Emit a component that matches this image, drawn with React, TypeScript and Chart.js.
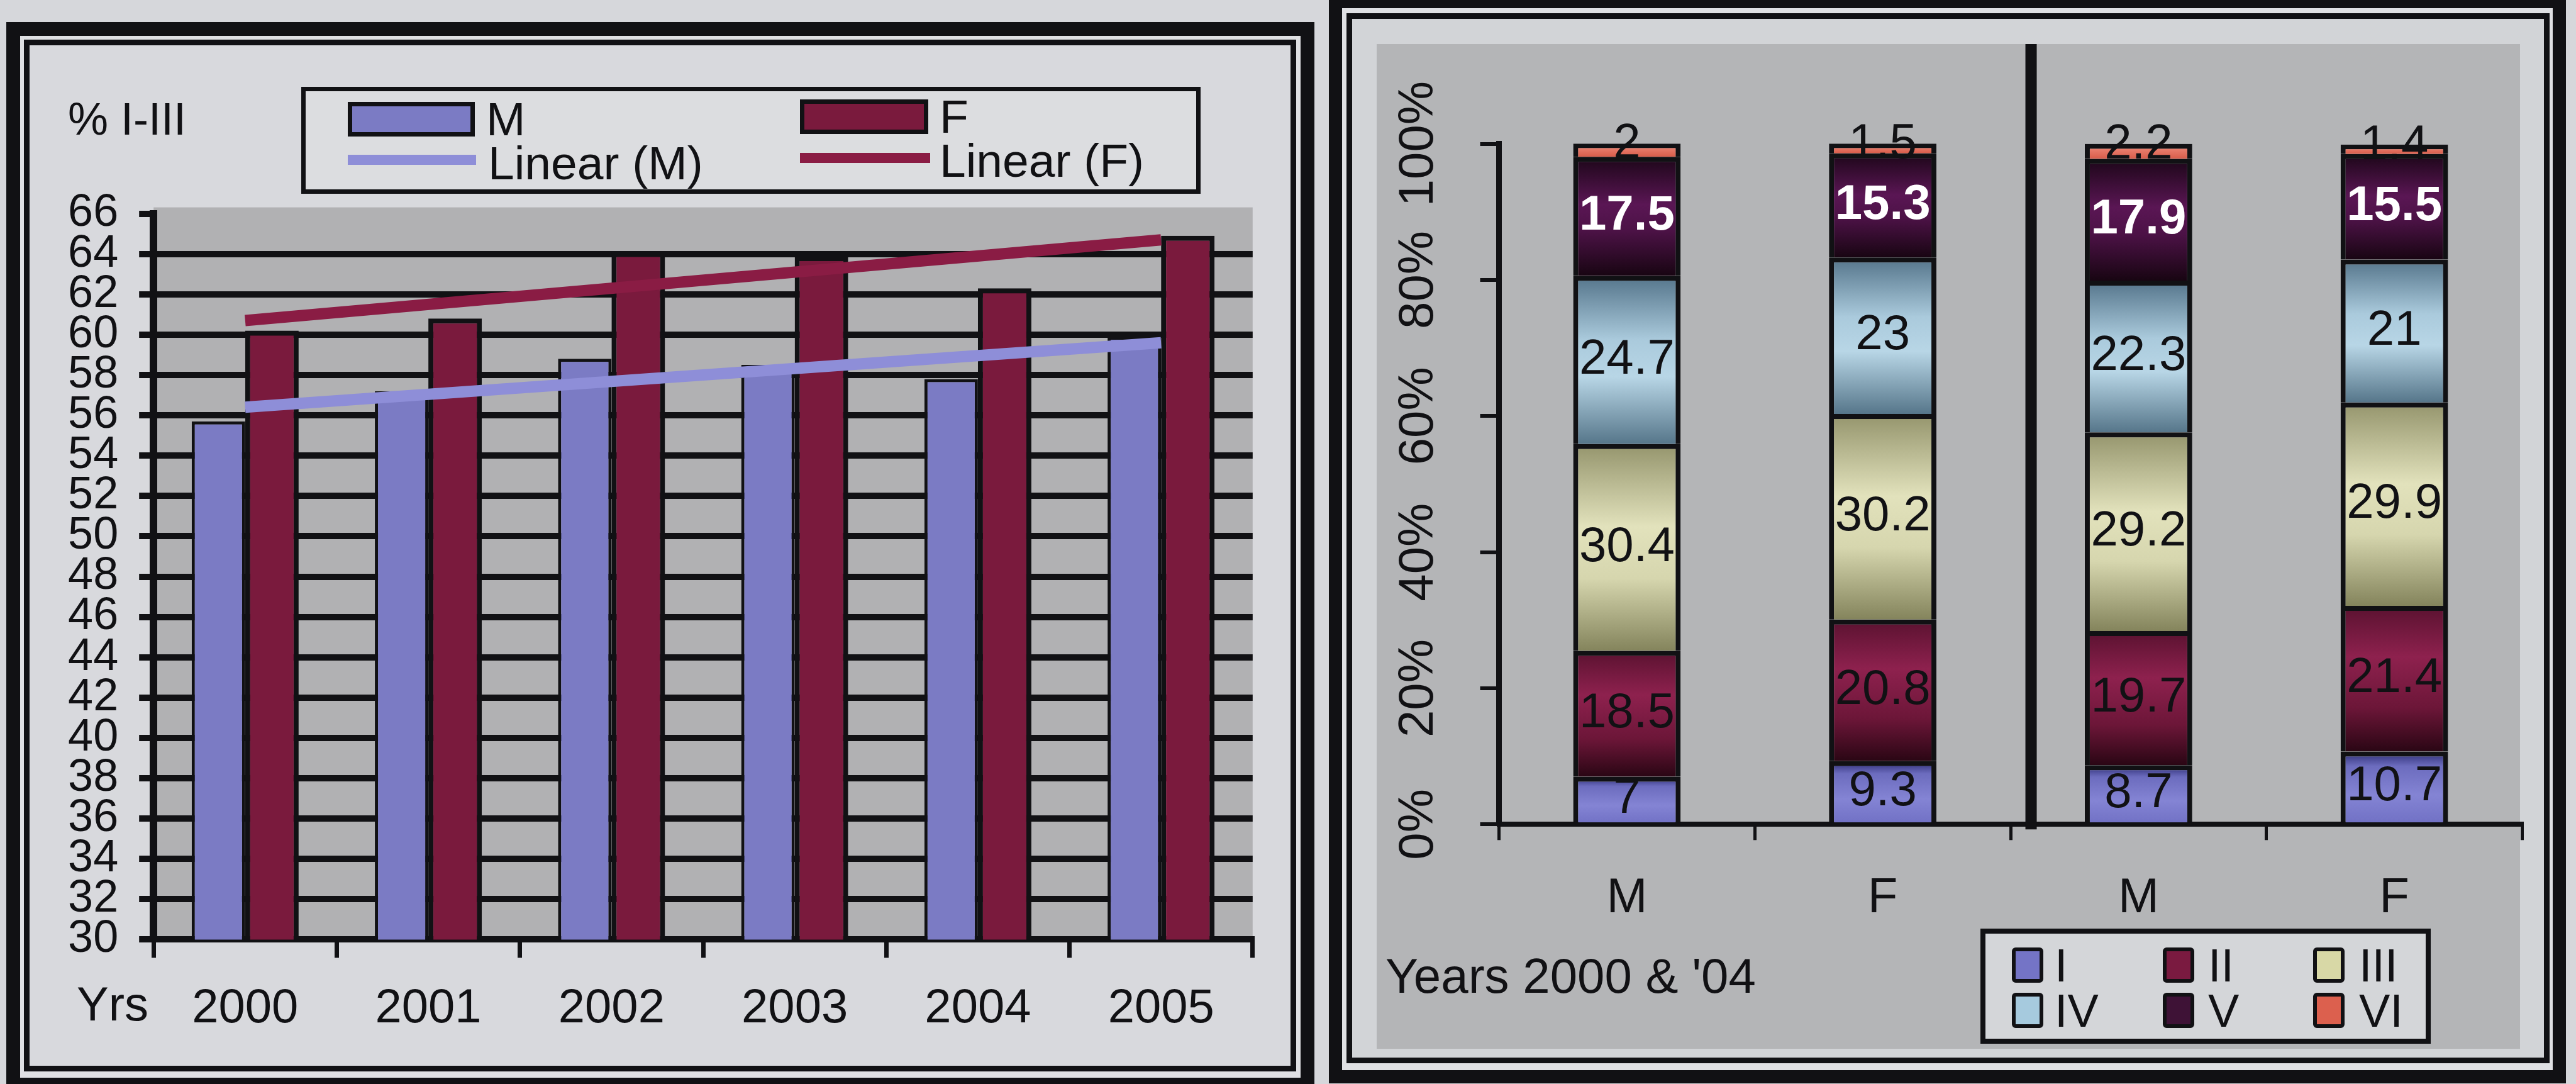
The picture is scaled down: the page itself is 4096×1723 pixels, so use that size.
import { useEffect, useRef } from 'react';
import { Chart, registerables } from 'chart.js';

Chart.register(...registerables);

const FONT = '"Liberation Sans", Arial, Helvetica, sans-serif';
const INK = '#111114';

// ---- Left chart: share of classes I–III (%) by year ----
const years = ['2000', '2001', '2002', '2003', '2004', '2005'];
const shareM = [55.7, 57.2, 58.8, 58.5, 57.8, 59.9];
const shareF = [60.2, 60.8, 64.1, 63.9, 62.3, 64.9];
const trendYears = ['2000', '2005'];
const trendM = [56.4, 59.6];
const trendF = [60.7, 64.7];
const leftMin = 30;
const leftMax = 66;
const leftStep = 2;

// ---- Right chart: distribution over classes I–VI, 2000 and 2004 ----
const groups = ['M', 'F', 'M', 'F'];
const classNames = ['I', 'II', 'III', 'IV', 'V', 'VI'];
const classI = [7, 9.3, 8.7, 10.7];
const classII = [18.5, 20.8, 19.7, 21.4];
const classIII = [30.4, 30.2, 29.2, 29.9];
const classIV = [24.7, 23, 22.3, 21];
const classV = [17.5, 15.3, 17.9, 15.5];
const classVI = [2, 1.5, 2.2, 1.4];
const classData = [classI, classII, classIII, classIV, classV, classVI];

const colM = '#7b7bc4';
const colF = '#7a1a3d';
const colTrendM = '#8e8ed8';
const colTrendF = '#8a1c44';

type Stop = [number, string];
const classStyle: { swatch: string; stops: Stop[]; label: string; bold: boolean }[] = [
  { swatch: '#7474c6', stops: [[0, '#2a2a72'], [0.2, '#6c6cbe'], [0.6, '#8484d4'], [1, '#7070c4']], label: INK, bold: false },
  { swatch: '#7a1a40', stops: [[0, '#5a1230'], [0.35, '#8e214e'], [0.7, '#6c1638'], [1, '#2a0614']], label: INK, bold: false },
  { swatch: '#d8d8a6', stops: [[0, '#94946c'], [0.4, '#e2e2bc'], [0.65, '#d6d6ae'], [1, '#84845c']], label: INK, bold: false },
  { swatch: '#a6cade', stops: [[0, '#54748a'], [0.38, '#aacadc'], [0.6, '#b8d6e6'], [1, '#56768a']], label: INK, bold: false },
  { swatch: '#3e1236', stops: [[0, '#1c0618'], [0.4, '#5a1654'], [0.62, '#4c1246'], [1, '#180512']], label: '#ffffff', bold: true },
  { swatch: '#dc604e', stops: [[0, '#f29080'], [1, '#d85c4a']], label: INK, bold: false },
];

const plotBackground = {
  id: 'plotBackground',
  beforeDraw(chart: any) {
    const { ctx, chartArea: a } = chart;
    ctx.save();
    ctx.fillStyle = '#b1b1b3';
    ctx.fillRect(a.left, a.top - 10, a.right - a.left, a.bottom - a.top + 10);
    ctx.restore();
  },
};

const segmentLabels = {
  id: 'segmentLabels',
  afterDatasetsDraw(chart: any) {
    const ctx = chart.ctx;
    ctx.save();
    ctx.textAlign = 'center';
    ctx.textBaseline = 'middle';
    chart.data.datasets.forEach((ds: any, k: number) => {
      const meta = chart.getDatasetMeta(k);
      const st = classStyle[k];
      ctx.font = `${st.bold ? 'bold ' : ''}78px ${FONT}`;
      ctx.fillStyle = st.label;
      meta.data.forEach((el: any, i: number) => {
        const { x, y, base } = el.getProps(['x', 'y', 'base'], true);
        const cy = k === classData.length - 1 ? y + 2 : (y + base) / 2;
        ctx.fillText(String(ds.data[i]), x, cy);
      });
    });
    ctx.restore();
  },
};

// vertical rule separating the 2000 pair from the 2004 pair
const yearDivider = {
  id: 'yearDivider',
  afterDatasetsDraw(chart: any) {
    const { ctx, chartArea: a } = chart;
    const x = chart.scales.x.getPixelForValue(1.58);
    ctx.save();
    ctx.fillStyle = INK;
    ctx.fillRect(x - 9, 0, 18, a.bottom + 8);
    ctx.restore();
  },
};

function segmentFill(k: number) {
  return (c: any) => {
    const st = classStyle[k];
    const chart = c.chart;
    if (c.type !== 'data' || !chart.chartArea) return st.swatch;
    const y = chart.scales.y;
    let lo = 0;
    for (let j = 0; j < k; j++) lo += classData[j][c.dataIndex];
    const hi = lo + classData[k][c.dataIndex];
    const top = y.getPixelForValue(hi);
    const bot = y.getPixelForValue(lo);
    if (!isFinite(top) || !isFinite(bot) || bot - top < 1) return st.swatch;
    const g = chart.ctx.createLinearGradient(0, top, 0, bot);
    st.stops.forEach(([o, col]) => g.addColorStop(o, col));
    return g;
  };
}

const LW = 2000, LH = 1640; // left canvas
const RW = 1850, RH = 1597; // right canvas

function Frame({ l, t, r, b, w, bg }: { l: number; t: number; r: number; b: number; w: number; bg?: string }) {
  return (
    <div
      style={{
        position: 'absolute', left: l, top: t, width: r - l, height: b - t,
        border: `${w}px solid ${INK}`, boxSizing: 'border-box', background: bg || 'transparent',
      }}
    />
  );
}

function Txt({ x, cy, size, children, bold }: { x: number; cy: number; size: number; children: any; bold?: boolean }) {
  return (
    <div
      style={{
        position: 'absolute', left: x, top: cy - 0.4885 * size, fontSize: size, lineHeight: `${size}px`,
        fontFamily: FONT, color: INK, whiteSpace: 'nowrap', fontWeight: bold ? 700 : 400,
      }}
    >
      {children}
    </div>
  );
}

export default function App() {
  const leftRef = useRef<HTMLCanvasElement>(null);
  const rightRef = useRef<HTMLCanvasElement>(null);

  useEffect(() => {
    Chart.defaults.font.family = FONT;
    const left = new Chart(leftRef.current as HTMLCanvasElement, {
      type: 'bar',
      data: {
        labels: years,
        datasets: [
          { type: 'line', label: 'Linear (M)', data: trendYears.map((x, i) => ({ x, y: trendM[i] })) as any, borderColor: colTrendM, borderWidth: 18, pointRadius: 0, order: 0, borderCapStyle: 'butt' },
          { type: 'line', label: 'Linear (F)', data: trendYears.map((x, i) => ({ x, y: trendF[i] })) as any, borderColor: colTrendF, borderWidth: 18, pointRadius: 0, order: 0, borderCapStyle: 'butt' },
          { type: 'bar', label: 'M', data: shareM, backgroundColor: colM, borderColor: INK, borderWidth: 5, order: 1, categoryPercentage: 0.584, barPercentage: 1 },
          { type: 'bar', label: 'F', data: shareF, backgroundColor: colF, borderColor: INK, borderWidth: 8, order: 1, categoryPercentage: 0.584, barPercentage: 1 },
        ] as any,
      },
      options: {
        responsive: false,
        devicePixelRatio: 1,
        animation: false,
        events: [],
        layout: { padding: { top: 279.6, right: LW - 1941.8, bottom: 0, left: 0 } },
        plugins: { legend: { display: false }, tooltip: { enabled: false } },
        scales: {
          x: {
            type: 'category',
            offset: true,
            grid: { offset: true, drawOnChartArea: false, drawTicks: true, tickLength: 29, color: INK, lineWidth: 7 },
            border: { display: true, color: INK, width: 10 },
            ticks: { color: INK, font: { size: 76, family: FONT }, padding: 36, autoSkip: false, maxRotation: 0 },
            afterFit: (s: any) => { s.height = LH - 1433.4; },
          },
          y: {
            min: leftMin,
            max: leftMax,
            ticks: { stepSize: leftStep, autoSkip: false, color: INK, font: { size: 72, family: FONT }, padding: 33 },
            grid: {
              color: (c: any) => (c.tick && c.tick.value === leftMax ? 'rgba(0,0,0,0)' : INK),
              tickColor: INK, lineWidth: 10, tickLength: 23, tickWidth: 10,
            },
            border: { display: true, color: INK, width: 12 },
            afterFit: (s: any) => { s.width = 194.2; },
          },
        },
      } as any,
      plugins: [plotBackground],
    });

    const right = new Chart(rightRef.current as HTMLCanvasElement, {
      type: 'bar',
      data: {
        labels: groups,
        datasets: classData.map((d, k) => ({
          label: classNames[k],
          data: d,
          backgroundColor: segmentFill(k),
          borderColor: INK,
          borderWidth: 8,
          barPercentage: 0.42,
          categoryPercentage: 1,
        })) as any,
      },
      options: {
        responsive: false,
        devicePixelRatio: 1,
        animation: false,
        events: [],
        layout: { padding: { top: 158.6, right: RW - 1821.5, bottom: 0, left: 0 } },
        plugins: { legend: { display: false }, tooltip: { enabled: false } },
        scales: {
          x: {
            stacked: true,
            offset: true,
            grid: { offset: true, drawOnChartArea: false, drawTicks: true, tickLength: 25, color: INK, lineWidth: 5 },
            border: { display: true, color: INK, width: 8 },
            ticks: { color: INK, font: { size: 78, family: FONT }, padding: 46, autoSkip: false, maxRotation: 0 },
            afterFit: (s: any) => { s.height = RH - 1240.3; },
          },
          y: {
            stacked: true,
            min: 0,
            max: 100,
            ticks: {
              stepSize: 20, autoSkip: false, color: INK, font: { size: 78, family: FONT },
              callback: (v: any) => `${v}%`, minRotation: 90, maxRotation: 90, crossAlign: 'center', padding: -3,
            },
            grid: { drawOnChartArea: false, drawTicks: true, tickLength: 30, color: INK, lineWidth: 6 },
            border: { display: true, color: INK, width: 9 },
            afterFit: (s: any) => { s.width = 194.5; },
          },
        },
      } as any,
      plugins: [segmentLabels, yearDivider],
    });

    return () => {
      left.destroy();
      right.destroy();
    };
  }, []);

  const legendFont = 75;
  const rowsR = [1534, 1606];
  const colsR = [3199, 3439, 3678];
  const textColsR = [3267, 3511, 3751];

  return (
    <div
      style={{
        position: 'fixed', left: 0, top: 0, width: 4096, height: 1723, overflow: 'hidden',
        background: '#d6d7db', fontFamily: FONT,
      }}
    >
      {/* left panel frame */}
      <Frame l={10} t={35} r={2090} b={1735} w={22} bg="#dfe0e3" />
      <Frame l={38} t={63} r={2061} b={1703} w={9} bg="#d8d9dd" />

      {/* right panel frame */}
      <Frame l={2113} t={-8} r={4080} b={1722} w={21} bg="#dfe0e3" />
      <Frame l={2141} t={21} r={4054} b={1690} w={9} bg="#d2d4d7" />
      <div style={{ position: 'absolute', left: 2189, top: 70, width: 4007 - 2189, height: 1667 - 70, background: '#b4b5b7' }} />

      <canvas ref={leftRef} width={LW} height={LH} style={{ position: 'absolute', left: 50, top: 60, width: LW, height: LH }} />
      <canvas ref={rightRef} width={RW} height={RH} style={{ position: 'absolute', left: 2189, top: 70, width: RW, height: RH }} />

      {/* left chart captions */}
      <Txt x={108} cy={188} size={72}>% I-III</Txt>
      <Txt x={122} cy={1595} size={76}>Yrs</Txt>

      {/* left legend */}
      <div style={{ position: 'absolute', left: 479, top: 138, width: 1909 - 479, height: 308 - 138, border: `7px solid ${INK}`, boxSizing: 'border-box', background: '#dcdde0' }} />
      <div style={{ position: 'absolute', left: 553, top: 162, width: 202, height: 55, background: colM, border: `7px solid ${INK}`, boxSizing: 'border-box' }} />
      <Txt x={773} cy={189} size={legendFont}>M</Txt>
      <div style={{ position: 'absolute', left: 1272, top: 158, width: 204, height: 55, background: colF, border: `7px solid ${INK}`, boxSizing: 'border-box' }} />
      <Txt x={1494} cy={185} size={legendFont}>F</Txt>
      <div style={{ position: 'absolute', left: 553, top: 254 - 8, width: 204, height: 16, background: colTrendM }} />
      <Txt x={776} cy={259} size={legendFont}>Linear (M)</Txt>
      <div style={{ position: 'absolute', left: 1272, top: 251 - 8, width: 207, height: 16, background: colTrendF }} />
      <Txt x={1494} cy={255} size={legendFont}>Linear (F)</Txt>

      {/* right chart caption */}
      <Txt x={2203} cy={1550} size={78}>Years 2000 &amp; '04</Txt>

      {/* right legend */}
      <div style={{ position: 'absolute', left: 3149, top: 1476, width: 3865 - 3149, height: 1659 - 1476, border: `8px solid ${INK}`, boxSizing: 'border-box', background: '#d4d6d9' }} />
      {classNames.map((name, k) => {
        const r = Math.floor(k / 3);
        const c = k % 3;
        return (
          <div key={name}>
            <div
              style={{
                position: 'absolute', left: colsR[c], top: rowsR[r] - 28, width: 50, height: 56,
                background: classStyle[k].swatch, border: `6px solid ${INK}`, borderRadius: 6, boxSizing: 'border-box',
              }}
            />
            <Txt x={textColsR[c]} cy={rowsR[r]} size={74}>{name}</Txt>
          </div>
        );
      })}
    </div>
  );
}
